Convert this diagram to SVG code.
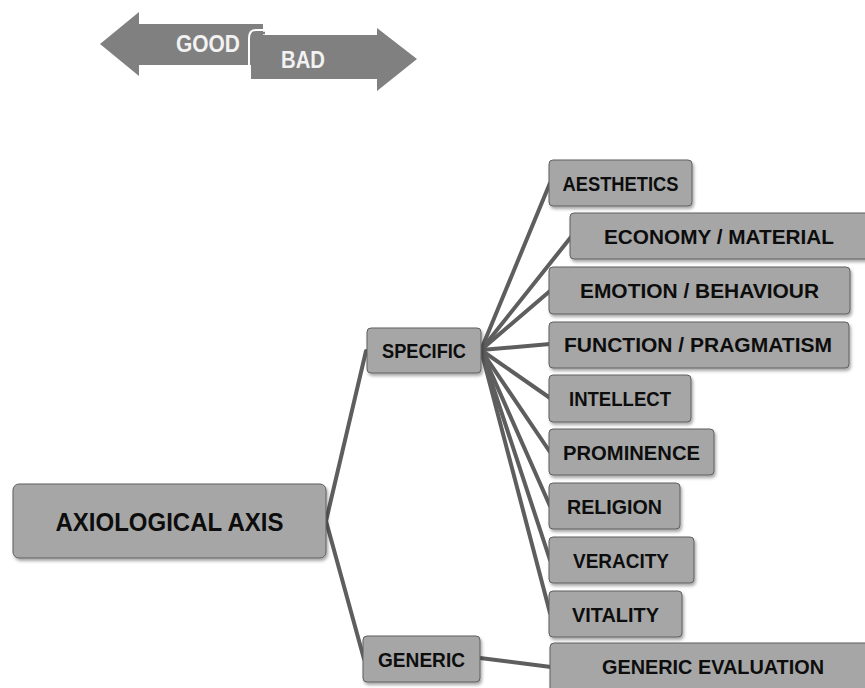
<svg xmlns="http://www.w3.org/2000/svg" width="865" height="688" viewBox="0 0 865 688">
<style>
.node rect{fill:#a6a6a6;stroke:#5e5e5e;stroke-width:1;filter:url(#sh)}
.node text{font-family:"Liberation Sans",Arial,sans-serif;font-weight:bold;font-size:21px;fill:#0d0d0d;text-anchor:middle}
.conn line{stroke:#5e5e5e;stroke-width:4;stroke-linecap:round}
.arr text{font-family:"Liberation Sans",Arial,sans-serif;font-weight:bold;font-size:23px;fill:#f2f2f2}
</style>
<defs>
<filter id="sh" x="-10%" y="-20%" width="130%" height="160%">
<feDropShadow dx="1.5" dy="2.5" stdDeviation="1.5" flood-color="#000" flood-opacity="0.35"/>
</filter>
</defs>
<rect width="865" height="688" fill="#fff"/>
<g id="good-bad" class="arr">
<polygon points="100,44 139,12 139,24 263,24 263,65 139,65 139,76" fill="#808080"/>
<path d="M251,40 L377,38 L377,28 L417,59 L377,91 L377,79 L254,79 Q251,79 251,76 Z" fill="#808080"/>
<path d="M249,78 L249,38 Q249,30 256,30 L264,30" fill="none" stroke="#fff" stroke-width="2"/>
<path d="M252,33 L265,33" stroke="#808080" stroke-width="2.5"/>
<rect x="251" y="35" width="126" height="44" fill="#808080"/>
<text x="176" y="52" textLength="64" lengthAdjust="spacingAndGlyphs">GOOD</text>
<text x="281" y="68" textLength="44" lengthAdjust="spacingAndGlyphs">BAD</text>
</g>
<g id="connectors" class="conn">
<line x1="326" y1="521" x2="366" y2="351"/>
<line x1="326" y1="521" x2="364" y2="659"/>
<line x1="481" y1="350" x2="550" y2="183"/>
<line x1="481" y1="350" x2="571" y2="237"/>
<line x1="481" y1="350" x2="550" y2="291"/>
<line x1="481" y1="350" x2="550" y2="344"/>
<line x1="481" y1="350" x2="550" y2="398"/>
<line x1="481" y1="350" x2="550" y2="452"/>
<line x1="481" y1="350" x2="550" y2="506"/>
<line x1="481" y1="350" x2="550" y2="560"/>
<line x1="481" y1="350" x2="550" y2="613"/>
<line x1="480" y1="658" x2="551" y2="667"/>
</g>
<g id="axiological-axis" class="node"><rect x="13" y="484" width="313" height="74" rx="6"/><text x="169.5" y="531" style="font-size:26px" textLength="228" lengthAdjust="spacingAndGlyphs">AXIOLOGICAL AXIS</text></g>
<g id="specific" class="node"><rect x="367" y="328" width="114" height="45" rx="4"/><text x="424" y="358" textLength="84" lengthAdjust="spacingAndGlyphs">SPECIFIC</text></g>
<g id="generic" class="node"><rect x="363" y="636" width="117" height="46" rx="4"/><text x="421.5" y="667" textLength="87" lengthAdjust="spacingAndGlyphs">GENERIC</text></g>
<g id="aesthetics" class="node"><rect x="549" y="160" width="143" height="46" rx="4"/><text x="620.5" y="191" textLength="116" lengthAdjust="spacingAndGlyphs">AESTHETICS</text></g>
<g id="economy" class="node"><rect x="570" y="213" width="300" height="46" rx="4"/><text x="719" y="244" textLength="230" lengthAdjust="spacingAndGlyphs">ECONOMY / MATERIAL</text></g>
<g id="emotion" class="node"><rect x="549" y="267" width="301" height="47" rx="4"/><text x="699.5" y="298" textLength="239" lengthAdjust="spacingAndGlyphs">EMOTION / BEHAVIOUR</text></g>
<g id="function" class="node"><rect x="549" y="322" width="300" height="46" rx="4"/><text x="698" y="352" textLength="268" lengthAdjust="spacingAndGlyphs">FUNCTION / PRAGMATISM</text></g>
<g id="intellect" class="node"><rect x="549" y="375" width="142" height="47" rx="4"/><text x="620" y="406" textLength="102" lengthAdjust="spacingAndGlyphs">INTELLECT</text></g>
<g id="prominence" class="node"><rect x="549" y="429" width="165" height="46" rx="4"/><text x="631.5" y="460" textLength="137" lengthAdjust="spacingAndGlyphs">PROMINENCE</text></g>
<g id="religion" class="node"><rect x="549" y="483" width="131" height="46" rx="4"/><text x="614.5" y="514" textLength="95" lengthAdjust="spacingAndGlyphs">RELIGION</text></g>
<g id="veracity" class="node"><rect x="549" y="537" width="145" height="46" rx="4"/><text x="621" y="568" textLength="96" lengthAdjust="spacingAndGlyphs">VERACITY</text></g>
<g id="vitality" class="node"><rect x="549" y="591" width="133" height="46" rx="4"/><text x="615.5" y="622" textLength="87" lengthAdjust="spacingAndGlyphs">VITALITY</text></g>
<g id="generic-evaluation" class="node"><rect x="550" y="643" width="330" height="60" rx="4"/><text x="713" y="674" textLength="222" lengthAdjust="spacingAndGlyphs">GENERIC EVALUATION</text></g>
</svg>
